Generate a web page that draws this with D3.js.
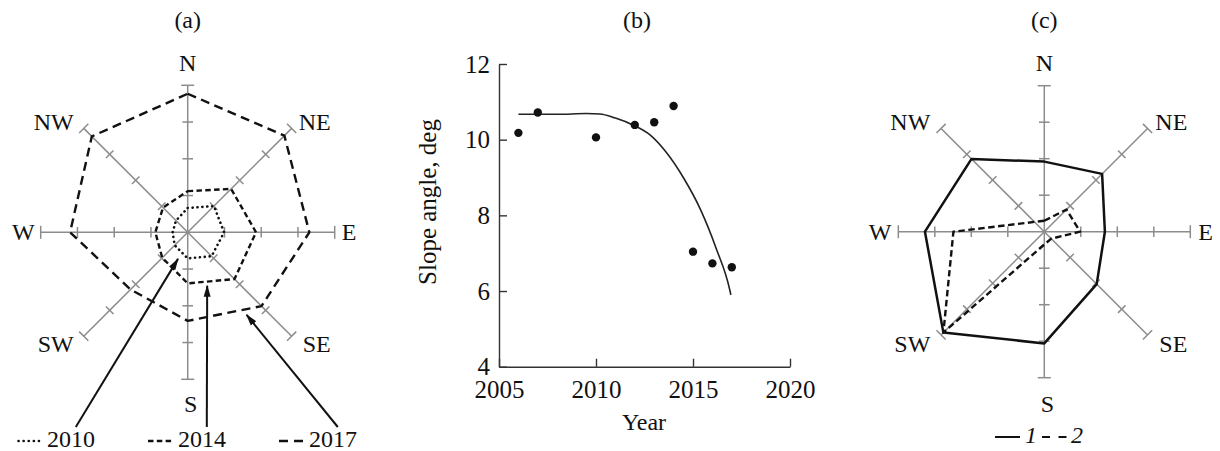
<!DOCTYPE html>
<html>
<head>
<meta charset="utf-8">
<script src="https://cdn.jsdelivr.net/npm/d3@7"></script>
<style>
  body { margin: 0; background: #fff; }
  svg text { font-family: "Liberation Serif", "Times New Roman", serif; fill: #111; }
</style>
</head>
<body>
<svg id="chart" width="1220" height="451"></svg>
<script>
// ---- data ----

// rose diagrams: compass directions, clockwise from north
const directions = ["N", "NE", "E", "SE", "S", "SW", "W", "NW"];
const roseTicks = [1, 2, 3, 4];

// (a) three surveys
const roseYears = ["2010", "2014", "2017"];
const rose2010 = [0.66, 1.01, 0.99, 0.92, 0.71, 0.50, 0.41, 0.45];
const rose2014 = [1.12, 1.67, 1.86, 1.80, 1.39, 0.98, 0.88, 0.95];
const rose2017 = [3.77, 3.72, 3.31, 2.84, 2.41, 2.20, 3.20, 3.69];
// where the leader arrows point (radius, bearing in degrees)
const arrowR = [0.77, 1.55, 2.76];
const arrowBearing = [200, 160, 144.5];

// (c) two series
const roseLabels2 = ["1", "2"];
const rose1 = [1.92, 2.24, 1.66, 2.03, 3.06, 3.91, 3.27, 2.82];
const rose2 = [0.30, 0.86, 0.98, 0.27, 0.35, 3.91, 2.49, 0.38];

// (b) slope angle by year
const obsYears = [2006, 2007, 2010, 2012, 2013, 2014, 2015, 2016, 2017];
const obsSlope = [10.18, 10.72, 10.06, 10.39, 10.46, 10.89, 7.04, 6.73, 6.63];
const fitYears = [2006, 2008, 2009.5, 2010.2, 2011, 2011.9, 2012.8, 2013.6, 2014.5, 2015.4, 2016.2, 2016.9, 2016.95];
const fitSlope = [10.67, 10.67, 10.69, 10.68, 10.57, 10.39, 10.12, 9.68, 9.0, 8.14, 7.12, 6.02, 5.9];
const xTicksB = [2005, 2010, 2015, 2020];
const yTicksB = [4, 6, 8, 10, 12];

// ---- drawing ----
const svg = d3.select("#chart");
svg.append("rect").attr("width", 1220).attr("height", 451).attr("fill", "#fff");

const defs = svg.append("defs");
defs.append("marker")
    .attr("id", "arrow")
    .attr("markerUnits", "userSpaceOnUse")
    .attr("viewBox", "0 -5 12 10")
    .attr("refX", 11).attr("refY", 0)
    .attr("markerWidth", 12).attr("markerHeight", 10)
    .attr("orient", "auto")
  .append("path")
    .attr("d", "M0,-3.5L12,0L0,3.5Z")
    .attr("fill", "#111");

// label placement around a rose, relative to its centre
const dirLabelPos = {
    N:  [0, -161, "middle"], S:  [3, 180, "middle"],
    W:  [-153, 8, "end"],    E:  [154, 8, "start"],
    NW: [-114, -102, "end"], NE: [111, -102, "start"],
    SW: [-114, 120, "end"],  SE: [115, 120, "start"]
};

function drawRose(cx, cy, R, series) {
    const g = svg.append("g").attr("transform", "translate(" + cx + "," + cy + ")");
    const r = d3.scaleLinear().domain([0, 4]).range([0, R]);
    const angle = d3.scaleOrdinal().domain(directions).range(directions.map((d, i) => i * Math.PI / 4));

    // spokes with perpendicular ticks
    directions.forEach(dir => {
        const a = angle(dir);
        const s = g.append("g").attr("transform", "rotate(" + (a * 180 / Math.PI) + ")");
        s.append("line")
            .attr("x1", 0).attr("y1", 0).attr("x2", 0).attr("y2", -r(4))
            .attr("stroke", "#8c8c8c").attr("stroke-width", 1.5);
        s.selectAll("line.tick")
            .data(roseTicks)
            .enter().append("line")
            .attr("class", "tick")
            .attr("x1", d => d === 4 ? -6.5 : -5.3)
            .attr("x2", d => d === 4 ? 6.5 : 5.3)
            .attr("y1", d => -r(d)).attr("y2", d => -r(d))
            .attr("stroke", "#8c8c8c").attr("stroke-width", 1.5);
    });

    // polygons
    series.forEach(sr => {
        const line = d3.lineRadial()
            .angle((d, i) => angle(directions[i]))
            .radius(d => r(d))
            .curve(d3.curveLinearClosed);
        g.append("path")
            .datum(sr.values)
            .attr("d", line)
            .attr("fill", "none")
            .attr("stroke", "#111")
            .attr("stroke-width", sr.width)
            .attr("stroke-dasharray", sr.dash)
            .attr("stroke-linecap", sr.cap)
            .attr("stroke-linejoin", "round");
    });

    // direction names
    directions.forEach(dir => {
        const p = dirLabelPos[dir];
        g.append("text")
            .attr("x", p[0]).attr("y", p[1])
            .attr("text-anchor", p[2])
            .attr("font-size", 24)
            .text(dir);
    });
    return {g: g, r: r};
}

// panel titles
[["(a)", 187.7], ["(b)", 637], ["(c)", 1044.3]].forEach(t => {
    svg.append("text").attr("x", t[1]).attr("y", 28)
        .attr("text-anchor", "middle").attr("font-size", 24).text(t[0]);
});

// ---- (a) ----
const styleA = [
    {values: rose2010, dash: "0.1 4.8", width: 2.6, cap: "round"},
    {values: rose2014, dash: "5.5 3.3", width: 2.4, cap: "butt"},
    {values: rose2017, dash: "9 5.5", width: 2.4, cap: "butt"}
];
const roseA = drawRose(187.7, 232.3, 147, styleA);

const legendAx = [17, 148, 279];
roseYears.forEach((yr, i) => {
    const x0 = legendAx[i];
    svg.append("line")
        .attr("x1", x0 + (i === 0 ? 1.5 : 0)).attr("x2", x0 + 24)
        .attr("y1", 441).attr("y2", 441)
        .attr("stroke", "#111").attr("stroke-width", styleA[i].width)
        .attr("stroke-dasharray", i === 0 ? "0.1 5" : (i === 1 ? "5.5 3.3" : "9 6"))
        .attr("stroke-linecap", styleA[i].cap);
    const txt = svg.append("text")
        .attr("x", x0 + 30).attr("y", 447)
        .attr("font-size", 24).text(yr);
    const bb = txt.node().getBBox();
    const rr = roseA.r(arrowR[i]);
    const b = arrowBearing[i] * Math.PI / 180;
    svg.append("line")
        .attr("x1", bb.x + bb.width * 0.6).attr("y1", bb.y + 1)
        .attr("x2", 187.7 + rr * Math.sin(b)).attr("y2", 232.3 - rr * Math.cos(b))
        .attr("stroke", "#111").attr("stroke-width", 2)
        .attr("marker-end", "url(#arrow)");
});

// ---- (c) ----
const styleC = [
    {values: rose1, dash: null, width: 2.5, cap: "butt"},
    {values: rose2, dash: "6.5 3.5", width: 2.4, cap: "butt"}
];
drawRose(1044.3, 231.7, 146, styleC);

// legend (c)
svg.append("line").attr("x1", 995).attr("x2", 1020).attr("y1", 437).attr("y2", 437)
    .attr("stroke", "#111").attr("stroke-width", 2);
svg.append("text").attr("x", 1025).attr("y", 443).attr("font-size", 24)
    .attr("font-style", "italic").text(roseLabels2[0]);
svg.append("line").attr("x1", 1042).attr("x2", 1067).attr("y1", 437).attr("y2", 437)
    .attr("stroke", "#111").attr("stroke-width", 2).attr("stroke-dasharray", "8 8.5");
svg.append("text").attr("x", 1071).attr("y", 443).attr("font-size", 24)
    .attr("font-style", "italic").text(roseLabels2[1]);

// ---- (b) ----
const x = d3.scaleLinear().domain([2005, 2020]).range([499, 790]);
const y = d3.scaleLinear().domain([4, 12]).range([366.7, 64]);

const xAxis = d3.axisBottom(x).tickValues(xTicksB).tickFormat(d3.format("d"))
    .tickSizeInner(-8).tickSizeOuter(0).tickPadding(13.5);
const yAxis = d3.axisLeft(y).tickValues(yTicksB).tickFormat(d3.format("d"))
    .tickSizeInner(-8).tickSizeOuter(0).tickPadding(9);

const gx = svg.append("g").attr("transform", "translate(0,366.7)").call(xAxis);
const gy = svg.append("g").attr("transform", "translate(499,0)").call(yAxis);
[gx, gy].forEach(ax => {
    ax.select(".domain").attr("stroke", "#333").attr("stroke-width", 1.4);
    ax.selectAll(".tick line").attr("stroke", "#333").attr("stroke-width", 1.4);
    ax.selectAll(".tick text")
        .attr("font-family", "Liberation Serif, serif")
        .attr("font-size", 25).attr("fill", "#111");
});

const fit = fitYears.map((d, i) => ({x: d, y: fitSlope[i]}));
svg.append("path")
    .datum(fit)
    .attr("d", d3.line().x(d => x(d.x)).y(d => y(d.y)).curve(d3.curveMonotoneX))
    .attr("fill", "none").attr("stroke", "#222").attr("stroke-width", 1.6);

svg.selectAll(".dot")
    .data(obsYears.map((d, i) => ({x: d, y: obsSlope[i]})))
    .enter().append("circle")
    .attr("class", "dot")
    .attr("cx", d => x(d.x)).attr("cy", d => y(d.y))
    .attr("r", 4.2).attr("fill", "#111");

svg.append("text")
    .attr("x", 644).attr("y", 430)
    .attr("text-anchor", "middle").attr("font-size", 24).text("Year");
svg.append("text")
    .attr("transform", "translate(436,202) rotate(-90)")
    .attr("text-anchor", "middle").attr("font-size", 25).text("Slope angle, deg");
</script>
</body>
</html>
